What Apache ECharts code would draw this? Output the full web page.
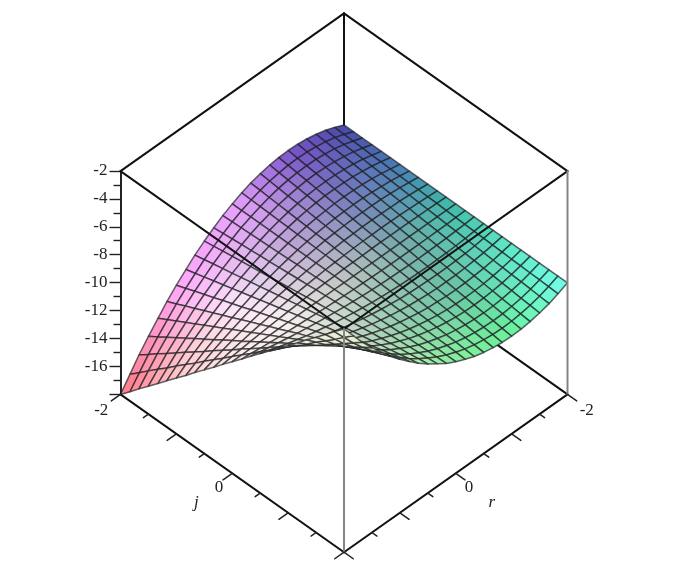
<!DOCTYPE html>
<html>
<head>
<meta charset="utf-8">
<style>html,body{margin:0;padding:0;background:#fff}#c{width:682px;height:564px}</style>
<script src="https://cdn.jsdelivr.net/npm/echarts@6/dist/echarts.min.js"></script>
</head>
<body>
<div id="c"></div>
<script>
// Grid positions of the surface along each horizontal axis
const jValues = [-2,-1.83,-1.67,-1.5,-1.33,-1.17,-1,-0.83,-0.67,-0.5,-0.33,-0.17,0,0.17,0.33,0.5,0.67,0.83,1,1.17,1.33,1.5,1.67,1.83,2];
const rValues = [-2,-1.83,-1.67,-1.5,-1.33,-1.17,-1,-0.83,-0.67,-0.5,-0.33,-0.17,0,0.17,0.33,0.5,0.67,0.83,1,1.17,1.33,1.5,1.67,1.83,2];
// Surface height, one row per j value, one column per r value
const zByJ = [
[-10,-9.69,-9.44,-9.25,-9.11,-9.03,-9,-9.03,-9.11,-9.25,-9.44,-9.69,-10,-10.36,-10.78,-11.25,-11.78,-12.36,-13,-13.69,-14.44,-15.25,-16.11,-17.03,-18],
[-10,-9.72,-9.49,-9.31,-9.19,-9.11,-9.08,-9.11,-9.19,-9.31,-9.49,-9.72,-10,-10.33,-10.71,-11.15,-11.63,-12.16,-12.75,-13.39,-14.07,-14.81,-15.6,-16.44,-17.33],
[-10,-9.75,-9.54,-9.37,-9.26,-9.19,-9.17,-9.19,-9.26,-9.37,-9.54,-9.75,-10,-10.3,-10.65,-11.04,-11.48,-11.97,-12.5,-13.08,-13.7,-14.38,-15.09,-15.86,-16.67],
[-10,-9.77,-9.58,-9.44,-9.33,-9.27,-9.25,-9.27,-9.33,-9.44,-9.58,-9.77,-10,-10.27,-10.58,-10.94,-11.33,-11.77,-12.25,-12.77,-13.33,-13.94,-14.58,-15.27,-16],
[-10,-9.8,-9.63,-9.5,-9.41,-9.35,-9.33,-9.35,-9.41,-9.5,-9.63,-9.8,-10,-10.24,-10.52,-10.83,-11.19,-11.57,-12,-12.46,-12.96,-13.5,-14.07,-14.69,-15.33],
[-10,-9.82,-9.68,-9.56,-9.48,-9.43,-9.42,-9.43,-9.48,-9.56,-9.68,-9.82,-10,-10.21,-10.45,-10.73,-11.04,-11.38,-11.75,-12.16,-12.59,-13.06,-13.56,-14.1,-14.67],
[-10,-9.85,-9.72,-9.62,-9.56,-9.51,-9.5,-9.51,-9.56,-9.62,-9.72,-9.85,-10,-10.18,-10.39,-10.63,-10.89,-11.18,-11.5,-11.85,-12.22,-12.63,-13.06,-13.51,-14],
[-10,-9.87,-9.77,-9.69,-9.63,-9.59,-9.58,-9.59,-9.63,-9.69,-9.77,-9.87,-10,-10.15,-10.32,-10.52,-10.74,-10.98,-11.25,-11.54,-11.85,-12.19,-12.55,-12.93,-13.33],
[-10,-9.9,-9.81,-9.75,-9.7,-9.68,-9.67,-9.68,-9.7,-9.75,-9.81,-9.9,-10,-10.12,-10.26,-10.42,-10.59,-10.79,-11,-11.23,-11.48,-11.75,-12.04,-12.34,-12.67],
[-10,-9.92,-9.86,-9.81,-9.78,-9.76,-9.75,-9.76,-9.78,-9.81,-9.86,-9.92,-10,-10.09,-10.19,-10.31,-10.44,-10.59,-10.75,-10.92,-11.11,-11.31,-11.53,-11.76,-12],
[-10,-9.95,-9.91,-9.87,-9.85,-9.84,-9.83,-9.84,-9.85,-9.87,-9.91,-9.95,-10,-10.06,-10.13,-10.21,-10.3,-10.39,-10.5,-10.62,-10.74,-10.88,-11.02,-11.17,-11.33],
[-10,-9.97,-9.95,-9.94,-9.93,-9.92,-9.92,-9.92,-9.93,-9.94,-9.95,-9.97,-10,-10.03,-10.06,-10.1,-10.15,-10.2,-10.25,-10.31,-10.37,-10.44,-10.51,-10.59,-10.67],
[-10,-10,-10,-10,-10,-10,-10,-10,-10,-10,-10,-10,-10,-10,-10,-10,-10,-10,-10,-10,-10,-10,-10,-10,-10],
[-10,-10.03,-10.05,-10.06,-10.07,-10.08,-10.08,-10.08,-10.07,-10.06,-10.05,-10.03,-10,-9.97,-9.94,-9.9,-9.85,-9.8,-9.75,-9.69,-9.63,-9.56,-9.49,-9.41,-9.33],
[-10,-10.05,-10.09,-10.13,-10.15,-10.16,-10.17,-10.16,-10.15,-10.13,-10.09,-10.05,-10,-9.94,-9.87,-9.79,-9.7,-9.61,-9.5,-9.38,-9.26,-9.12,-8.98,-8.83,-8.67],
[-10,-10.08,-10.14,-10.19,-10.22,-10.24,-10.25,-10.24,-10.22,-10.19,-10.14,-10.08,-10,-9.91,-9.81,-9.69,-9.56,-9.41,-9.25,-9.08,-8.89,-8.69,-8.47,-8.24,-8],
[-10,-10.1,-10.19,-10.25,-10.3,-10.32,-10.33,-10.32,-10.3,-10.25,-10.19,-10.1,-10,-9.88,-9.74,-9.58,-9.41,-9.21,-9,-8.77,-8.52,-8.25,-7.96,-7.66,-7.33],
[-10,-10.13,-10.23,-10.31,-10.37,-10.41,-10.42,-10.41,-10.37,-10.31,-10.23,-10.13,-10,-9.85,-9.68,-9.48,-9.26,-9.02,-8.75,-8.46,-8.15,-7.81,-7.45,-7.07,-6.67],
[-10,-10.15,-10.28,-10.38,-10.44,-10.49,-10.5,-10.49,-10.44,-10.38,-10.28,-10.15,-10,-9.82,-9.61,-9.37,-9.11,-8.82,-8.5,-8.15,-7.78,-7.37,-6.94,-6.49,-6],
[-10,-10.18,-10.32,-10.44,-10.52,-10.57,-10.58,-10.57,-10.52,-10.44,-10.32,-10.18,-10,-9.79,-9.55,-9.27,-8.96,-8.62,-8.25,-7.84,-7.41,-6.94,-6.44,-5.9,-5.33],
[-10,-10.2,-10.37,-10.5,-10.59,-10.65,-10.67,-10.65,-10.59,-10.5,-10.37,-10.2,-10,-9.76,-9.48,-9.17,-8.81,-8.43,-8,-7.54,-7.04,-6.5,-5.93,-5.31,-4.67],
[-10,-10.23,-10.42,-10.56,-10.67,-10.73,-10.75,-10.73,-10.67,-10.56,-10.42,-10.23,-10,-9.73,-9.42,-9.06,-8.67,-8.23,-7.75,-7.23,-6.67,-6.06,-5.42,-4.73,-4],
[-10,-10.25,-10.46,-10.63,-10.74,-10.81,-10.83,-10.81,-10.74,-10.63,-10.46,-10.25,-10,-9.7,-9.35,-8.96,-8.52,-8.03,-7.5,-6.92,-6.3,-5.62,-4.91,-4.14,-3.33],
[-10,-10.28,-10.51,-10.69,-10.81,-10.89,-10.92,-10.89,-10.81,-10.69,-10.51,-10.28,-10,-9.67,-9.29,-8.85,-8.37,-7.84,-7.25,-6.61,-5.93,-5.19,-4.4,-3.56,-2.67],
[-10,-10.31,-10.56,-10.75,-10.89,-10.97,-11,-10.97,-10.89,-10.75,-10.56,-10.31,-10,-9.64,-9.22,-8.75,-8.22,-7.64,-7,-6.31,-5.56,-4.75,-3.89,-2.97,-2]
];
// Tick labels and axis ticks
const zMin = -18, zMax = -2, zStep = 2;
const horizTicks = [-2,-1.5,-1,-0.5,0,0.5,1,1.5,2];
const horizLabels = [-2,0];
const horizMin = -2, horizMax = 2;
// Surface colours at j,r = -2,-1,0,1,2
const swatchStops = [-2,-1,0,1,2];
const swatches = [
 [[70,70,170],[122,82,202],[232,160,255],[255,165,250],[255,118,130]],
 [[70,125,180],[120,122,190],[190,165,215],[252,230,252],[255,200,200]],
 [[60,190,170],[120,170,170],[195,200,195],[250,242,240],[252,238,232]],
 [[92,235,200],[105,195,165],[145,205,175],[205,215,195],[240,240,222]],
 [[115,255,235],[105,245,155],[135,240,155],[195,240,185],[235,240,215]]
];

// view: u across the page, v down the page in z units
const depthPerUnit = 2.828;
const project = (j, r, z) => [(j - r) / 4, z - (j + r) * depthPerUnit];

function swatchAt(j, r) {
  const fj = Math.min(3.999, Math.max(0, j + 2)), fr = Math.min(3.999, Math.max(0, r + 2));
  const a = Math.floor(fj), b = Math.floor(fr), s = fj - a, t = fr - b, out = [];
  for (let c = 0; c < 3; c++) {
    out.push(Math.round((swatches[a][b][c] * (1 - t) + swatches[a][b + 1][c] * t) * (1 - s) +
      (swatches[a + 1][b][c] * (1 - t) + swatches[a + 1][b + 1][c] * t) * s));
  }
  return 'rgb(' + out.join(',') + ')';
}

const cells = [];
for (let a = 0; a < jValues.length - 1; a++) {
  for (let b = 0; b < rValues.length - 1; b++) {
    cells.push([jValues[a], jValues[a + 1], rValues[b], rValues[b + 1],
      zByJ[a][b], zByJ[a][b + 1], zByJ[a + 1][b + 1], zByJ[a + 1][b]]);
  }
}

function segment(api, p, q, color, width) {
  const A = api.coord(project(p[0], p[1], p[2])), B = api.coord(project(q[0], q[1], q[2]));
  return { type: 'line', shape: { x1: A[0], y1: A[1], x2: B[0], y2: B[1] },
    style: { stroke: color, lineWidth: width, lineCap: 'round' }, silent: true };
}
// each entry: from j,r,z to j,r,z
const behind = [
  [-2,-2,-2, -2,-2,-18],
  [-2,-2,-18, 2,-2,-18]
];
const inFront = [
  [-2,-2,-2, -2,2,-2],
  [-2,-2,-2, 2,-2,-2],
  [-2,2,-2, 2,2,-2],
  [2,-2,-2, 2,2,-2],
  [-2,2,-18, 2,2,-18],
  [2,-2,-18, 2,2,-18]
];
const greyEdges = [
  [2,2,-2, 2,2,-18],
  [2,-2,-2, 2,-2,-18]
];

function edgeSeries(name, list, color, width) {
  return {
    type: 'custom', name, xAxisIndex: 0, yAxisIndex: 0, silent: true, clip: false,
    data: list,
    renderItem: (p, api) => {
      const v = [0,1,2,3,4,5].map(i => api.value(i));
      return segment(api, v.slice(0, 3), v.slice(3), color, width);
    }
  };
}

const tickRows = [];
horizTicks.forEach(t => { tickRows.push([0, t]); tickRows.push([1, t]); });

const option = {
  animation: false,
  backgroundColor: '#fff',
  tooltip: { show: false },
  grid: [
    { left: 120.5, width: 447, top: 13.4, height: 538.8 },
    { left: 120.5, width: 447, top: 171, height: 223 }
  ],
  xAxis: [
    { gridIndex: 0, type: 'value', min: -1, max: 1, show: false },
    { gridIndex: 1, type: 'value', min: 0, max: 1, show: false }
  ],
  yAxis: [
    { gridIndex: 0, type: 'value', min: -29.31, max: 9.31, show: false },
    { gridIndex: 1, type: 'value', min: zMin, max: zMax, interval: zStep, position: 'left',
      axisLine: { show: true, lineStyle: { color: '#222', width: 2 } },
      axisTick: { show: true, length: 11, lineStyle: { color: '#222', width: 1.4 } },
      minorTick: { show: true, splitNumber: 2, length: 7, lineStyle: { color: '#222', width: 1.4 } },
      splitLine: { show: false },
      axisLabel: { show: true, margin: 13, color: '#222', fontFamily: 'Liberation Serif', fontSize: 17,
        formatter: v => v === zMin ? '' : String(v) } }
  ],
  series: [
    edgeSeries('back edges', behind, '#111', 2),
    {
      type: 'custom', name: 'surface', xAxisIndex: 0, yAxisIndex: 0, silent: true, clip: false,
      progressive: 0,
      data: cells,
      renderItem: (p, api) => {
        const j0 = api.value(0), j1 = api.value(1), r0 = api.value(2), r1 = api.value(3);
        const pts = [
          api.coord(project(j0, r0, api.value(4))),
          api.coord(project(j0, r1, api.value(5))),
          api.coord(project(j1, r1, api.value(6))),
          api.coord(project(j1, r0, api.value(7)))
        ];
        return { type: 'polygon', shape: { points: pts }, silent: true,
          style: { fill: swatchAt((j0 + j1) / 2, (r0 + r1) / 2),
            stroke: 'rgba(28,28,32,0.68)', lineWidth: 1.5, lineJoin: 'round' } };
      }
    },
    edgeSeries('front edges', inFront, '#111', 2),
    edgeSeries('grey edges', greyEdges, '#858585', 2),
    {
      type: 'custom', name: 'horizontal ticks', xAxisIndex: 0, yAxisIndex: 0, silent: true, clip: false,
      data: tickRows,
      renderItem: (p, api) => {
        const isR = api.value(0) === 1, t = api.value(1);
        const len = Number.isInteger(t) ? 0.165 : 0.09;
        const a = isR ? [horizMax, t, zMin] : [t, horizMax, zMin];
        const b = isR ? [horizMax + len, t, zMin] : [t, horizMax + len, zMin];
        return segment(api, a, b, '#222', 1.5);
      }
    },
    {
      type: 'custom', name: 'horizontal labels', xAxisIndex: 0, yAxisIndex: 0, silent: true, clip: false,
      data: [[0,-2],[0,0],[1,-2],[1,0]],
      renderItem: (p, api) => {
        const isR = api.value(0) === 1, t = api.value(1);
        const at = api.coord(isR ? project(horizMax + 0.165, t, zMin) : project(t, horizMax + 0.165, zMin));
        const dx = (t === 0 ? 4 : 10) * (isR ? 1 : -1), dy = t === 0 ? 8 : 10;
        return { type: 'text', silent: true, x: at[0] + dx, y: at[1] + dy,
          style: { text: String(t), fill: '#222', font: '17px "Liberation Serif"', align: 'center', verticalAlign: 'middle' } };
      }
    },
    {
      type: 'custom', name: 'axis titles', xAxisIndex: 0, yAxisIndex: 0, silent: true, clip: false,
      data: [[0],[1]],
      renderItem: (p, api) => {
        const isR = api.value(0) === 1;
        const at = api.coord(isR ? project(horizMax, 0, zMin) : project(0, horizMax, zMin));
        return { type: 'text', silent: true, x: at[0] + (isR ? 36 : -36), y: at[1] + 29.5,
          style: { text: isR ? 'r' : 'j', fill: '#222', font: 'italic 17px "Liberation Serif"', align: 'center', verticalAlign: 'middle' } };
      }
    }
  ]
};
echarts.init(document.getElementById('c'), null, { renderer: 'canvas' }).setOption(option);
</script>
</body>
</html>
